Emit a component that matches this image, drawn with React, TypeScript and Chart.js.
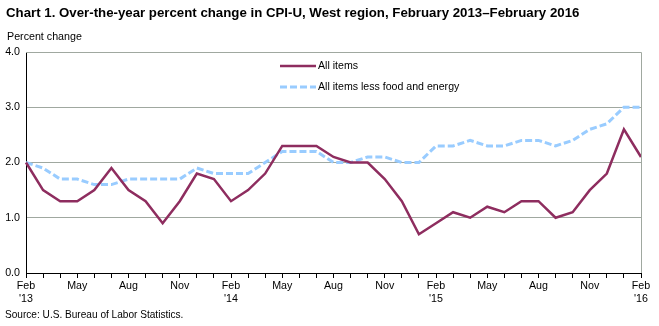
import React, { useEffect, useRef } from "react";
import { Chart, registerables } from "chart.js";

Chart.register(...registerables);

const months = ["Feb","Mar","Apr","May","Jun","Jul","Aug","Sep","Oct","Nov","Dec","Jan"];
const startYear = 13;
const categories: string[] = [];
for (let i = 0; i < 37; i++) {
  const m = months[i % 12];
  const yr = startYear + Math.floor((i + 1) / 12);
  categories.push(m + " '" + yr);
}

const allItems = [
  2.0, 1.5, 1.3, 1.3, 1.5, 1.9, 1.5, 1.3, 0.9, 1.3, 1.8, 1.7,
  1.3, 1.5, 1.8, 2.3, 2.3, 2.3, 2.1, 2.0, 2.0, 1.7, 1.3, 0.7,
  0.9, 1.1, 1.0, 1.2, 1.1, 1.3, 1.3, 1.0, 1.1, 1.5, 1.8, 2.6,
  2.1,
];
const lessFoodEnergy = [
  2.0, 1.9, 1.7, 1.7, 1.6, 1.6, 1.7, 1.7, 1.7, 1.7, 1.9, 1.8,
  1.8, 1.8, 2.0, 2.2, 2.2, 2.2, 2.0, 2.0, 2.1, 2.1, 2.0, 2.0,
  2.3, 2.3, 2.4, 2.3, 2.3, 2.4, 2.4, 2.3, 2.4, 2.6, 2.7, 3.0,
  3.0,
];
const seriesNames = ["All items", "All items less food and energy"];
const yTicks = [0, 1, 2, 3, 4];

const FONT = "Arial, 'Liberation Sans', sans-serif";

export default function App() {
  const ref = useRef<HTMLCanvasElement | null>(null);

  useEffect(() => {
    document.body.style.margin = "0";
    const canvas = ref.current!;
    const colors = ["#8E2D5F", "#99CCFF"];

    const framePlugin = {
      id: "frame",
      afterDraw(chart: any) {
        const { ctx, chartArea } = chart;
        ctx.save();
        ctx.strokeStyle = "#a0a8a0";
        ctx.lineWidth = 1;
        ctx.beginPath();
        ctx.moveTo(chartArea.left, chartArea.top + 0.5);
        ctx.lineTo(chartArea.right + 0.5, chartArea.top + 0.5);
        ctx.lineTo(chartArea.right + 0.5, chartArea.bottom);
        ctx.stroke();
        // legend
        const lx = 280, lw = 36, tx = 318;
        const ys = [66, 87];
        ys.forEach((y, i) => {
          ctx.beginPath();
          ctx.strokeStyle = colors[i];
          ctx.lineWidth = i === 0 ? 2.5 : 3;
          ctx.setLineDash(i === 0 ? [] : [7, 3]);
          ctx.moveTo(lx, y);
          ctx.lineTo(lx + lw, y);
          ctx.stroke();
          ctx.setLineDash([]);
          ctx.fillStyle = "#000";
          ctx.font = "10.6px " + FONT;
          ctx.textBaseline = "middle";
          ctx.textAlign = "left";
          ctx.fillText(seriesNames[i], tx, y);
        });
        ctx.restore();
      },
    };

    const chart = new Chart(canvas, {
      type: "line",
      data: {
        labels: categories,
        datasets: [
          {
            label: seriesNames[0],
            data: allItems,
            borderColor: colors[0],
            backgroundColor: colors[0],
            borderWidth: 2.5,
            pointRadius: 0,
            tension: 0,
          },
          {
            label: seriesNames[1],
            data: lessFoodEnergy,
            borderColor: colors[1],
            backgroundColor: colors[1],
            borderWidth: 3,
            borderDash: [7, 3],
            pointRadius: 0,
            tension: 0,
          },
        ],
      },
      options: {
        animation: false,
        responsive: false,
        maintainAspectRatio: false,
        layout: { padding: { top: 52, right: 18, left: 0, bottom: 0 } },
        plugins: {
          legend: { display: false },
          tooltip: { enabled: false },
          title: { display: false },
        },
        scales: {
          x: {
            type: "category",
            offset: false,
            grid: {
              drawOnChartArea: false,
              drawTicks: true,
              tickLength: 5,
              color: "#000",
            },
            border: { color: "#000", width: 1 },
            ticks: {
              autoSkip: false,
              maxRotation: 0,
              minRotation: 0,
              padding: 2,
              color: "#000",
              font: { family: FONT, size: 10.7 },
              callback: (_v: any, i: number) => {
                if (i % 3 !== 0) return "";
                const [m, y] = categories[i].split(" ");
                return m === "Feb" ? [m, y] : m;
              },
            },
            afterFit: (scale: any) => {
              scale.height = 53;
            },
          },
          y: {
            min: 0,
            max: 4,
            afterBuildTicks: (scale: any) => {
              scale.ticks = yTicks.map((v) => ({ value: v }));
            },
            grid: { color: "#a0a8a0", drawTicks: false, lineWidth: 1 },
            border: { color: "#000", width: 1 },
            ticks: {
              padding: 6,
              color: "#000",
              font: { family: FONT, size: 10.7 },
              callback: (v: any) => Number(v).toFixed(1),
            },
            afterFit: (scale: any) => {
              scale.width = 26;
            },
          },
        },
      },
      plugins: [framePlugin],
    });
    return () => chart.destroy();
  }, []);

  return (
    <div style={{ position: "relative", width: 659, height: 326, background: "#fff", fontFamily: FONT }}>
      <canvas ref={ref} width={659} height={326} style={{ position: "absolute", left: 0, top: 0 }} />
      <div style={{ position: "absolute", left: 6, top: 5, fontSize: 13.25, fontWeight: "bold", whiteSpace: "nowrap" }}>
        Chart 1. Over-the-year percent change in CPI-U, West region, February 2013–February 2016
      </div>
      <div style={{ position: "absolute", left: 7, top: 30, fontSize: 10.7, whiteSpace: "nowrap" }}>Percent change</div>
      <div style={{ position: "absolute", left: 5, top: 309, fontSize: 10.1, whiteSpace: "nowrap" }}>
        Source: U.S. Bureau of Labor Statistics.
      </div>
    </div>
  );
}
